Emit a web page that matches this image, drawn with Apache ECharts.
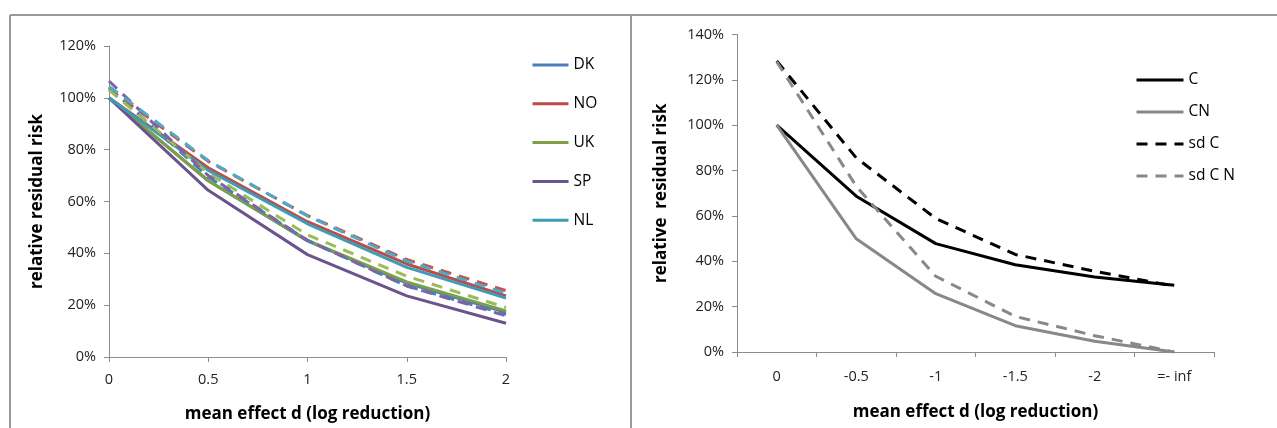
<!DOCTYPE html>
<html>
<head>
<meta charset="utf-8">
<script src="https://cdn.jsdelivr.net/npm/echarts@6/dist/echarts.min.js"></script>
<style>
html,body{margin:0;padding:0;background:#fff;}
#c{width:1277px;height:428px;}
</style>
</head>
<body>
<div id="c"></div>
<script>
// ---- data: left chart ----
const leftX = [0, 0.5, 1, 1.5, 2];
const leftXTicks = ['0', '0.5', '1', '1.5', '2'];
const DK = [100, 68, 44.8, 28.5, 17.2];
const NO = [100, 73, 52.2, 35.9, 23.6];
const UK = [100, 68, 45, 29, 17.8];
const SP = [100, 64.3, 39.5, 23.6, 13];
const NL = [100, 72, 51.4, 34.6, 22.7];
const DK_sd = [104, 69.5, 45, 27.4, 16.5];
const NO_sd = [103.4, 75.5, 54.6, 37.6, 25.6];
const UK_sd = [103, 71, 47.1, 31.2, 19.1];
const SP_sd = [106.5, 70, 45, 27.4, 15.9];
const NL_sd = [104.4, 75.8, 54.4, 37, 24.6];
const leftYTicks = [0, 20, 40, 60, 80, 100, 120];

// ---- data: right chart ----
const rightCats = ['0', '-0.5', '-1', '-1.5', '-2', '=- inf'];
const C = [100, 68.7, 47.8, 38.5, 33.1, 29.4];
const CN = [100, 49.9, 25.7, 11.6, 4.7, 0];
const sdC = [128.3, 85.6, 58.9, 43, 35.6, 29];
const sdCN = [128, 73.1, 33.4, 15.7, 7.2, 0];
const rightYTicks = [0, 20, 40, 60, 80, 100, 120, 140];

const FONT = 'Open Sans';
const axisGray = '#8c8c8c';
const textColor = '#222';
const dash = [11, 8];

function pair(xs, ys) { return xs.map((x, i) => [x, ys[i]]); }

const leftDefs = [
  ['DK', DK, '#4A7EBB', 'solid'],
  ['NO', NO, '#BE4B48', 'solid'],
  ['UK', UK, '#7E9F45', 'solid'],
  ['SP', SP, '#6B548C', 'solid'],
  ['NL', NL, '#3E9DB6', 'solid'],
  ['DK sd', DK_sd, '#4A7EBB', dash],
  ['NO sd', NO_sd, '#C9504D', dash],
  ['UK sd', UK_sd, '#9BBB59', dash],
  ['SP sd', SP_sd, '#8064A2', dash],
  ['NL sd', NL_sd, '#4BACC6', dash]
];
const rightDefs = [
  ['C', C, '#000000', 'solid'],
  ['CN', CN, '#888888', 'solid'],
  ['sd C', sdC, '#000000', dash],
  ['sd C N', sdCN, '#888888', dash]
];

const series = [];
leftDefs.forEach(d => series.push({
  name: d[0], type: 'line', xAxisIndex: 0, yAxisIndex: 0,
  data: pair(leftX, d[1]), symbol: 'none', animation: false,
  lineStyle: { color: d[2], width: 3, type: d[3] },
  itemStyle: { color: d[2] }
}));
rightDefs.forEach(d => series.push({
  name: d[0], type: 'line', xAxisIndex: 1, yAxisIndex: 1,
  data: d[1], symbol: 'none', animation: false,
  lineStyle: { color: d[2], width: 3, type: d[3] },
  itemStyle: { color: d[2] }
}));

const tickLabel = { fontFamily: FONT, fontSize: 14.5, color: textColor };
const nameStyle = { fontFamily: FONT, fontSize: 17, fontWeight: 'bold', color: '#000' };

const chart = echarts.init(document.getElementById('c'), null, { renderer: 'canvas' });
chart.setOption({
  animation: false,
  backgroundColor: '#fff',
  graphic: [
    { type: 'line', shape: { x1: 10, y1: 15, x2: 1277, y2: 15 }, style: { stroke: '#9a9a9a', lineWidth: 2 } },
    { type: 'line', shape: { x1: 10, y1: 15, x2: 10, y2: 428 }, style: { stroke: '#9a9a9a', lineWidth: 2 } },
    { type: 'line', shape: { x1: 631, y1: 15, x2: 631, y2: 428 }, style: { stroke: '#9a9a9a', lineWidth: 2 } }
  ],
  grid: [
    { left: 109, top: 46, width: 397, height: 313 },
    { left: 737, top: 34.5, width: 477, height: 317.5 }
  ],
  legend: [
    {
      data: ['DK', 'NO', 'UK', 'SP', 'NL'], orient: 'vertical', left: 526, top: 52,
      itemWidth: 36, itemHeight: 14, itemGap: 22.8,
      itemStyle: { opacity: 0 },
      lineStyle: { width: 3 },
      textStyle: { fontFamily: FONT, fontSize: 15.5, color: '#000' }
    },
    {
      data: ['C', 'CN', 'sd C', 'sd C N'], orient: 'vertical', left: 1130, top: 67,
      itemWidth: 47, itemHeight: 14, itemGap: 16,
      itemStyle: { opacity: 0 },
      lineStyle: { width: 3 },
      textStyle: { fontFamily: FONT, fontSize: 15.5, color: '#000' }
    }
  ],
  xAxis: [
    {
      type: 'value', gridIndex: 0, min: 0, max: 2, interval: 0.5,
      name: 'mean effect d (log reduction)', nameLocation: 'middle', nameGap: 49,
      nameTextStyle: nameStyle,
      axisLine: { lineStyle: { color: axisGray, width: 1 } },
      axisTick: { show: true, length: 5, lineStyle: { color: axisGray } },
      splitLine: { show: false },
      axisLabel: Object.assign({ margin: 15, formatter: v => leftXTicks[leftX.indexOf(v)] ?? '' }, tickLabel)
    },
    {
      type: 'category', gridIndex: 1, data: rightCats, boundaryGap: true,
      name: 'mean effect d (log reduction)', nameLocation: 'middle', nameGap: 52,
      nameTextStyle: nameStyle,
      axisLine: { lineStyle: { color: axisGray, width: 1 } },
      axisTick: { show: true, length: 5, lineStyle: { color: axisGray } },
      splitLine: { show: false },
      axisLabel: Object.assign({ margin: 17 }, tickLabel)
    }
  ],
  yAxis: [
    {
      type: 'value', gridIndex: 0, min: 0, max: 120, interval: 20,
      name: 'relative residual risk', nameLocation: 'middle', nameGap: 63,
      nameTextStyle: nameStyle,
      axisLine: { show: true, lineStyle: { color: axisGray, width: 1 } },
      axisTick: { show: true, length: 5, lineStyle: { color: axisGray } },
      splitLine: { show: false },
      axisLabel: Object.assign({ margin: 13, formatter: v => leftYTicks.includes(v) ? v + '%' : '' }, tickLabel)
    },
    {
      type: 'value', gridIndex: 1, min: 0, max: 140, interval: 20,
      name: 'relative  residual risk', nameLocation: 'middle', nameGap: 67,
      nameTextStyle: nameStyle,
      axisLine: { show: true, lineStyle: { color: axisGray, width: 1 } },
      axisTick: { show: true, length: 5, lineStyle: { color: axisGray } },
      splitLine: { show: false },
      axisLabel: Object.assign({ margin: 13, formatter: v => rightYTicks.includes(v) ? v + '%' : '' }, tickLabel)
    }
  ],
  series: series
});
</script>
</body>
</html>
